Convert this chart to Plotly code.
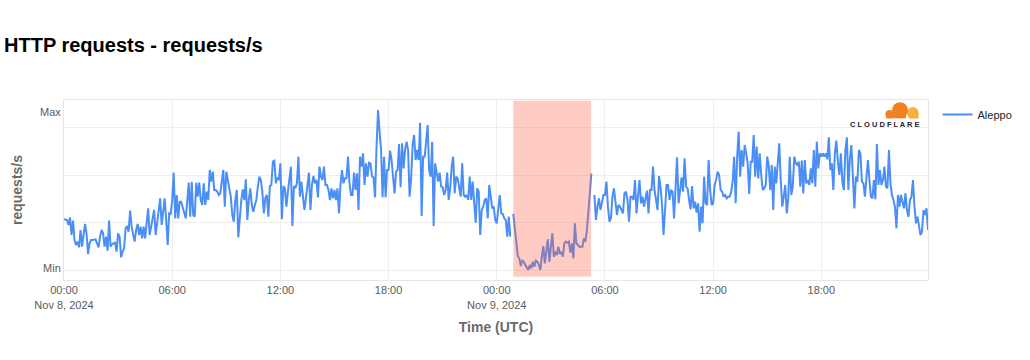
import pandas as pd
import plotly.graph_objects as go

# ---- data (relative request rate, 5-minute steps, UTC) ----
nov8_am = [
    152,152,150,135,158,105,148,90,75,85,68,120,
    70,105,138,110,48,80,90,90,90,92,80,68,
    100,120,110,70,100,58,148,70,78,80,82,55,
    110,100,38,55,65,125,132,115,178,130,100,85,
    120,138,105,130,95,130,95,150,185,105,132,160,
    180,105,140,175,215,135,170,215,150,75,170,168,
    210,292,155,225,155,205,205,190,170,155,205,262,
    160,265,165,160,262,220,262,210,195,260,195,235,
    210,300,265,295,240,240,235,225,230,275,300,190,
    295,270,240,220,165,145,210,240,98,160,210,242,
    210,272,150,210,245,195,175,195,210,250,280,270,
    235,170,215,225,160,252,255,325,328,260,275,272,
]
nov8_pm = [
    320,152,252,245,190,235,265,310,132,252,245,260,
    340,220,265,220,180,215,260,292,180,255,282,260,
    270,218,310,280,270,310,255,255,240,210,245,215,
    240,210,245,170,255,300,260,275,275,340,260,225,
    225,292,240,290,180,340,310,350,255,320,280,322,
    320,280,278,218,370,480,415,362,218,340,218,300,
    300,358,330,280,230,295,300,378,248,380,305,360,
    385,360,220,275,375,405,330,360,330,442,162,340,
    340,385,435,300,280,385,132,320,290,265,292,250,
    248,225,240,292,210,245,310,340,230,280,275,240,
    220,320,225,220,225,210,280,210,265,200,142,245,
    235,105,180,190,210,215,155,255,225,185,190,150,
]
nov9_am = [
    140,190,225,170,168,155,150,100,160,100,None,168,
    130,75,42,35,12,28,25,15,5,0,15,5,
    25,10,28,25,15,0,40,72,20,50,92,25,
    70,110,40,55,45,70,48,55,40,80,85,82,
    85,52,80,35,140,80,75,70,70,70,95,85,
    120,180,250,290,None,225,150,190,215,180,200,225,
    225,265,190,145,155,220,245,210,165,195,190,180,
    170,230,235,210,145,220,220,210,270,170,220,270,
    200,220,190,215,238,170,240,240,310,240,210,180,
    282,248,195,105,180,255,255,210,240,235,155,250,
    338,200,250,278,235,335,250,245,210,182,252,185,
    205,172,200,115,190,140,280,200,195,330,240,195,
]
nov9_pm = [
    200,255,270,295,285,240,235,220,225,215,220,220,
    235,265,340,200,340,415,280,360,310,375,350,320,
    228,325,325,405,280,370,275,350,285,240,245,255,
    340,315,240,315,180,310,260,310,380,270,190,220,
    255,170,215,340,225,250,340,320,315,325,250,328,
    230,330,260,270,255,305,260,360,250,385,305,350,
    340,350,340,350,332,398,300,320,240,350,388,325,
    285,350,265,240,360,398,240,335,375,280,185,280,
    265,360,350,265,260,220,285,330,270,220,215,270,
    212,378,255,300,255,270,310,250,245,360,260,225,
    210,190,125,225,190,225,205,185,230,180,160,210,
    220,270,190,140,160,130,105,115,180,165,185,120,
]
series_name = "Aleppo"
start_time = "2024-11-08 00:00"
step = "5min"
x_range = ["2024-11-08 00:00", "2024-11-09 23:55"]
outage_start = "2024-11-09 00:55"
outage_end = "2024-11-09 05:14"
y_min_tick, y_max_tick = 5, 474
y_tick_text = ["Min", "Max"]

values = nov8_am + nov8_pm + nov9_am + nov9_pm
times = pd.date_range(start_time, periods=len(values), freq=step)

FONT = "Liberation Sans, Arial, Helvetica, sans-serif"
GRID = "#eeeeee"

fig = go.Figure()
fig.add_trace(go.Scatter(
    x=times, y=values, mode="lines", name=series_name,
    line=dict(color="#4a8ef6", width=2), connectgaps=False,
))

fig.add_shape(type="rect", xref="x", yref="y domain",
              x0=outage_start, x1=outage_end, y0=0.018, y1=0.996,
              fillcolor="rgba(255,95,70,0.32)", line=dict(width=0), layer="above")

# Cloudflare logo (decorative), placed in pixel terms of the plot area
L, R, T, B = 64, 928, 100, 280
def px(x):
    return (x - L) / (R - L)
def py(y):
    return (B - y) / (B - T)
def circ(cx, cy, r, color):
    fig.add_shape(type="circle", xref="paper", yref="paper",
                  x0=px(cx - r), x1=px(cx + r), y0=py(cy + r), y1=py(cy - r),
                  fillcolor=color, line=dict(width=0), layer="above")
circ(912.8, 112.8, 5.8, "#FBAD41")
fig.add_shape(type="rect", xref="paper", yref="paper",
              x0=px(909), x1=px(918.6), y0=py(118.4), y1=py(113),
              fillcolor="#FBAD41", line=dict(width=0), layer="above")
circ(889.5, 114.2, 4.2, "#F38020")
circ(900, 110.2, 8.0, "#F38020")
fig.add_shape(type="rect", xref="paper", yref="paper",
              x0=px(886), x1=px(906), y0=py(118.3), y1=py(114),
              fillcolor="#F38020", line=dict(width=0), layer="above")
fig.add_annotation(x=px(884.5), y=py(124.6), xref="paper", yref="paper",
                   text="<b>C L O U D F L A R E</b>", showarrow=False,
                   font=dict(family=FONT, size=7.5, color="#222222"),
                   xanchor="center", yanchor="middle")

fig.update_layout(
    width=1030, height=360,
    margin=dict(l=L, r=1030 - R, t=T, b=360 - B),
    paper_bgcolor="white", plot_bgcolor="white",
    font=dict(family=FONT, size=11, color="#5a5a5a"),
    title=dict(text="<b>HTTP requests - requests/s</b>", x=4 / 1030, xanchor="left",
               xref="container", y=1 - 45 / 360, yanchor="middle", yref="container",
               font=dict(family=FONT, size=20, color="#000000")),
    showlegend=True,
    legend=dict(x=1.011, y=1, xanchor="left", yanchor="top",
                font=dict(family=FONT, size=11, color="#222222"),
                bgcolor="rgba(0,0,0,0)"),
    xaxis=dict(
        range=x_range, type="date", dtick=6 * 3600 * 1000,
        tick0="2024-11-08 00:00",
        showgrid=True, gridcolor=GRID, gridwidth=1,
        showline=True, linecolor="#e6e6e6", mirror=True, linewidth=1,
        ticks="", zeroline=False,
        tickfont=dict(family=FONT, size=11, color="#5a5a5a"),
        title=dict(text="<b>Time (UTC)</b>", standoff=12,
                   font=dict(family=FONT, size=14, color="#6b6b6b")),
    ),
    yaxis=dict(
        range=[-30, 510],
        tickmode="array", tickvals=[y_min_tick, y_max_tick], ticktext=y_tick_text,
        showgrid=False, zeroline=False,
        minor=dict(tick0=0, dtick=142.4, showgrid=True, gridcolor=GRID, ticks=""),
        showline=True, linecolor="#e6e6e6", mirror=True, linewidth=1,
        ticks="",
        tickfont=dict(family=FONT, size=11, color="#5a5a5a"),
        title=dict(text="<b>requests/s</b>", standoff=14,
                   font=dict(family=FONT, size=14, color="#6b6b6b")),
    ),
)

fig.write_html("out.html", config={"displayModeBar": False},
               post_script="document.body.style.margin='0px';")
